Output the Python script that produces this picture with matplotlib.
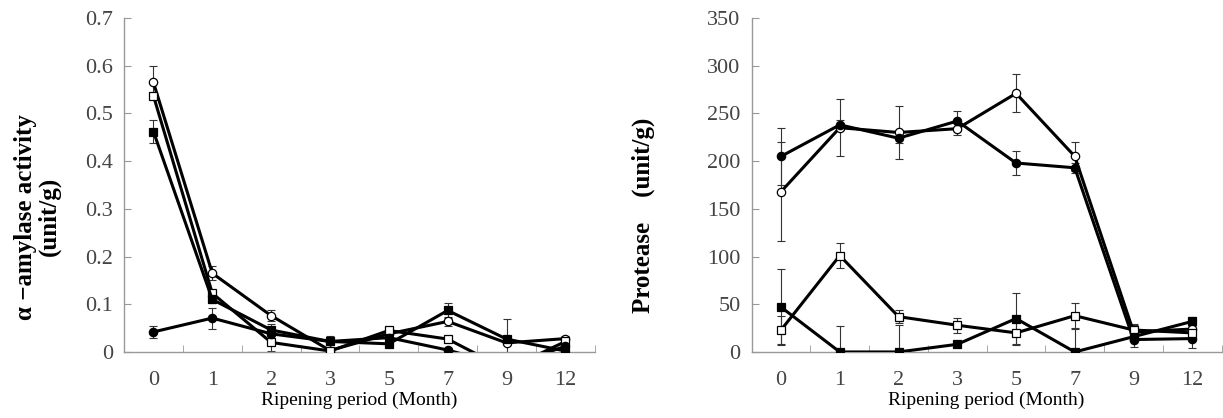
import numpy as np
import matplotlib.pyplot as plt

plt.rcParams['font.family'] = ['Liberation Serif', 'DejaVu Serif']

months = ['0', '1', '2', '3', '5', '7', '9', '12']

# alpha-amylase (unit/g)
amy_oc = [0.565, 0.165, 0.076, 0.003, 0.038, 0.064, 0.019, 0.028]
amy_os = [0.537, 0.123, 0.020, 0.002, 0.045, 0.027, -0.037, 0.022]
amy_fs = [0.462, 0.110, 0.046, 0.022, 0.017, 0.087, 0.027, 0.002]
amy_fc = [0.042, 0.071, 0.038, 0.022, 0.030, 0.004, -0.030, 0.012]
amy_oc_err = [0.035, 0.015, 0.012, 0.005, 0.006, 0.010, 0.005, 0.005]
amy_os_err = [0.005, 0.005, 0.018, 0.003, 0.005, 0.005, 0.0, 0.005]
amy_fs_err = [0.024, 0.008, 0.012, 0.006, 0.006, 0.016, 0.042, 0.003]
amy_fc_err = [0.012, 0.022, 0.010, 0.012, 0.005, 0.004, 0.0, 0.005]

# protease (unit/g)
pro_oc = [168, 235, 230, 234, 271, 205, 21, 24]
pro_fc = [205, 238, 224, 242, 198, 193, 13, 14]
pro_os = [23, 101, 37, 28, 20, 38, 23, 20]
pro_fs = [47, 0, 0, 8, 35, 0, 16, 32]
pro_oc_err = [52, 30, 28, 7, 20, 15, 8, 8]
pro_fc_err = [30, 5, 5, 10, 13, 5, 8, 10]
pro_os_err = [15, 13, 7, 8, 13, 13, 5, 5]
pro_fs_err = [40, 27, 28, 3, 27, 24, 5, 5]

fig = plt.figure(figsize=(12.23, 4.18), dpi=100)
ax1 = fig.add_axes([0.1014, 0.158, 0.385, 0.799])
ax2 = fig.add_axes([0.6146, 0.158, 0.3843, 0.799])

x = np.arange(len(months))


def draw(ax, series):
    for y, err, mk, fc in series:
        ax.errorbar(x, y, yerr=err, fmt='none', ecolor='#333333', elinewidth=0.8,
                    capsize=3, capthick=0.8, zorder=2)
        ax.plot(x, y, color='black', lw=2.2, marker=mk, ms=6,
                mfc=fc, mec='black', mew=0.9, zorder=3)
    ax.set_xlim(-0.5, len(months) - 0.5)
    ax.set_xticks(x)
    ax.set_xticklabels(months)
    ax.set_xticks(np.arange(-0.5, len(months), 1.0), minor=True)
    ax.tick_params(axis='x', which='major', length=0, pad=14, labelsize=16, labelcolor='#444444')
    ax.tick_params(axis='x', which='minor', direction='in', length=5, color='#999999')
    ax.tick_params(axis='y', direction='in', length=5, color='#999999', labelsize=16,
                   labelcolor='#444444', pad=8)
    for s in ['top', 'right']:
        ax.spines[s].set_visible(False)
    for s in ['left', 'bottom']:
        ax.spines[s].set_color('#999999')
        ax.spines[s].set_linewidth(1.0)
    ax.set_xlabel('Ripening period (Month)', fontsize=14, labelpad=1)


draw(ax1, [(amy_oc, amy_oc_err, 'o', 'white'),
           (amy_os, amy_os_err, 's', 'white'),
           (amy_fs, amy_fs_err, 's', 'black'),
           (amy_fc, amy_fc_err, 'o', 'black')])
ax1.set_ylim(0, 0.7)
ax1.set_yticks(np.arange(0, 0.71, 0.1))
ax1.set_yticklabels(['0', '0.1', '0.2', '0.3', '0.4', '0.5', '0.6', '0.7'])
ax1.set_ylabel('α −amylase activity\n(unit/g)', fontsize=18, fontweight='bold',
               linespacing=1.0, multialignment='center')
ax1.yaxis.set_label_coords(-0.135, 0.405)

draw(ax2, [(pro_oc, pro_oc_err, 'o', 'white'),
           (pro_fc, pro_fc_err, 'o', 'black'),
           (pro_os, pro_os_err, 's', 'white'),
           (pro_fs, pro_fs_err, 's', 'black')])
ax2.set_ylim(0, 350)
ax2.set_yticks(np.arange(0, 351, 50))
ax2.set_ylabel('Protease\u3000(unit/g)', fontsize=18, fontweight='bold',
               family=['Liberation Serif', 'Noto Sans CJK JP'])
ax2.yaxis.set_label_coords(-0.205, 0.41)

plt.savefig('out.png', dpi=100)
